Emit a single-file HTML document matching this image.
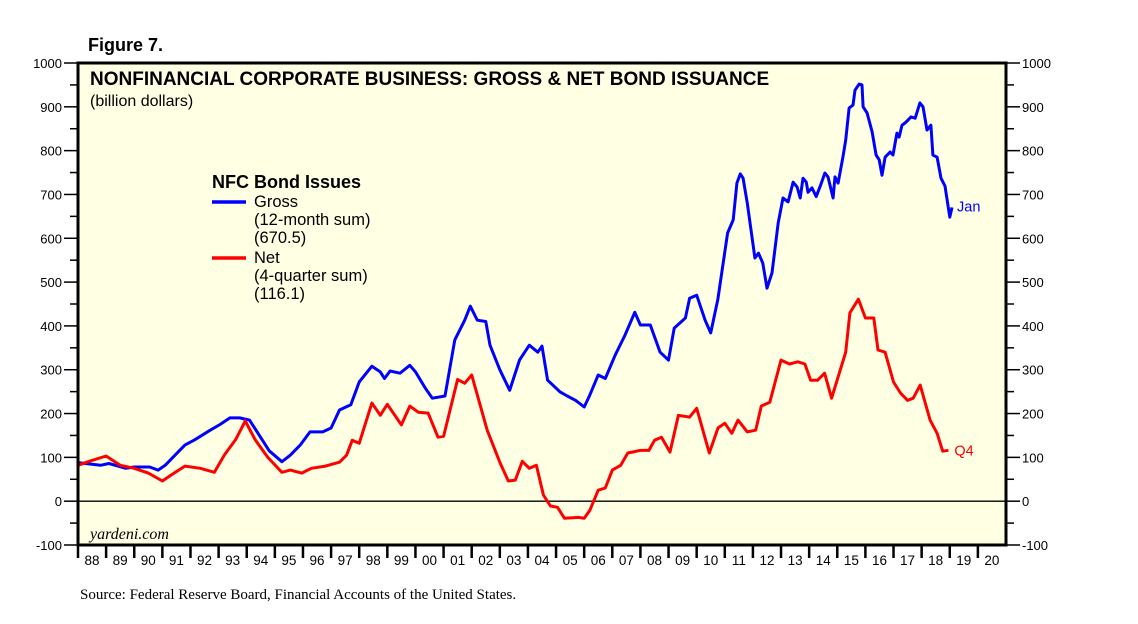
<!DOCTYPE html>
<html><head><meta charset="utf-8"><style>
body{margin:0;background:#fff;}
svg{display:block;font-family:"Liberation Sans",sans-serif;}
</style></head><body>
<svg id="chart" width="1138" height="624" viewBox="0 0 1138 624" xmlns="http://www.w3.org/2000/svg">
<text x="88" y="51" font-size="18" font-weight="bold">Figure 7.</text>
<rect x="78" y="63" width="928" height="482" fill="#ffffe4"/>
<g id="axes"></g>
<g id="series"></g>
<rect x="78" y="63" width="928" height="482" fill="none" stroke="#000" stroke-width="3"/>
<text x="90" y="85" font-size="19" font-weight="bold">NONFINANCIAL CORPORATE BUSINESS: GROSS &amp; NET BOND ISSUANCE</text>
<text x="90" y="106" font-size="16">(billion dollars)</text>
<g>
<text x="212" y="188" font-size="18" font-weight="bold">NFC Bond Issues</text>
<line x1="212" y1="202" x2="246" y2="202" stroke="#0000ff" stroke-width="3.5"/>
<text x="254" y="207" font-size="16.5">Gross</text>
<text x="254" y="225" font-size="16.5">(12-month sum)</text>
<text x="254" y="243" font-size="16.5">(670.5)</text>
<line x1="212" y1="258" x2="246" y2="258" stroke="#ff0000" stroke-width="3.5"/>
<text x="254" y="263" font-size="16.5">Net</text>
<text x="254" y="281" font-size="16.5">(4-quarter sum)</text>
<text x="254" y="299" font-size="16.5">(116.1)</text>
</g>
<text x="90" y="539" font-size="16" font-style="italic" font-family="Liberation Serif,serif">yardeni.com</text>
<text x="80" y="599" font-size="15" font-family="Liberation Serif,serif">Source: Federal Reserve Board, Financial Accounts of the United States.</text>
</svg>
<script>
const yTicks = [-100,0,100,200,300,400,500,600,700,800,900,1000];
const yearLabels = ["88","89","90","91","92","93","94","95","96","97","98","99","00","01","02","03","04","05","06","07","08","09","10","11","12","13","14","15","16","17","18","19","20"];
const grossDates = [1988.0,1988.8,1989.1,1989.7,1990.0,1990.55,1990.85,1991.1,1991.45,1991.8,1992.15,1992.7,1993.05,1993.4,1993.75,1994.1,1994.55,1994.8,1995.25,1995.55,1995.9,1996.25,1996.7,1997.0,1997.3,1997.7,1998.0,1998.45,1998.75,1998.9,1999.1,1999.45,1999.8,2000.0,2000.35,2000.6,2001.05,2001.4,2001.75,2001.95,2002.2,2002.5,2002.65,2003.0,2003.35,2003.7,2004.05,2004.35,2004.5,2004.7,2005.15,2005.4,2005.7,2006.0,2006.2,2006.5,2006.75,2007.1,2007.45,2007.8,2008.0,2008.35,2008.7,2009.0,2009.2,2009.6,2009.75,2010.0,2010.3,2010.5,2010.75,2011.1,2011.3,2011.43,2011.55,2011.65,2011.8,2012.07,2012.2,2012.35,2012.5,2012.68,2012.9,2013.07,2013.25,2013.43,2013.57,2013.68,2013.78,2013.9,2013.96,2014.1,2014.25,2014.4,2014.56,2014.67,2014.85,2014.92,2015.03,2015.2,2015.3,2015.42,2015.56,2015.63,2015.78,2015.88,2015.92,2016.06,2016.24,2016.38,2016.49,2016.59,2016.7,2016.88,2016.98,2017.12,2017.2,2017.3,2017.41,2017.52,2017.62,2017.77,2017.94,2018.05,2018.19,2018.33,2018.4,2018.55,2018.69,2018.83,2019.0,2019.08];
const grossValues = [88,82,86,75,78,78,71,82,105,128,140,162,175,190,190,185,140,115,90,105,128,158,158,167,208,220,272,308,295,280,297,292,310,295,258,235,240,368,413,445,413,410,356,300,253,322,356,340,354,276,249,240,230,215,242,288,280,333,379,431,402,402,340,322,395,418,463,470,413,384,460,612,642,726,747,737,680,555,566,543,486,521,635,692,683,728,717,692,737,728,705,715,695,720,749,740,692,740,726,785,824,897,904,938,952,950,900,886,843,790,779,744,785,797,790,840,831,858,863,870,877,874,909,900,847,858,790,785,737,719,648,670.5];
const netDates = [1988.0,1988.4,1989.0,1989.5,1990.0,1990.5,1991.0,1991.3,1991.8,1992.35,1992.85,1993.2,1993.6,1993.95,1994.3,1994.75,1995.25,1995.55,1995.95,1996.3,1996.8,1997.3,1997.55,1997.75,1998.0,1998.45,1998.75,1999.0,1999.5,1999.8,2000.1,2000.45,2000.8,2001.0,2001.5,2001.75,2002.0,2002.55,2003.0,2003.3,2003.55,2003.8,2004.05,2004.3,2004.55,2004.8,2005.05,2005.3,2005.8,2006.0,2006.2,2006.5,2006.75,2007.0,2007.3,2007.55,2008.0,2008.3,2008.5,2008.75,2009.05,2009.35,2009.75,2010.0,2010.45,2010.76,2011.0,2011.25,2011.47,2011.8,2012.1,2012.3,2012.6,2013.0,2013.3,2013.6,2013.85,2014.05,2014.3,2014.55,2014.8,2015.3,2015.45,2015.75,2016.0,2016.3,2016.45,2016.7,2017.0,2017.25,2017.5,2017.7,2017.95,2018.3,2018.55,2018.75,2018.95];
const netValues = [82,91,103,82,75,64,46,59,80,75,66,105,140,183,140,100,66,71,64,75,80,89,105,139,132,224,196,221,174,217,203,201,146,148,278,269,288,162,89,46,48,91,75,82,14,-11,-14,-39,-37,-39,-21,25,30,71,82,110,116,116,139,146,112,196,192,212,110,167,178,155,185,158,162,217,226,322,313,318,313,276,276,292,235,340,430,461,418,418,345,340,272,247,230,235,265,185,155,114,116.1];

const NS="http://www.w3.org/2000/svg";
const X0=78,X1=1006,Y0=545,Y1=63,YR0=1988,YR1=2021,V0=-100,V1=1000;
const xs=yr=>X0+(yr-YR0)/(YR1-YR0)*(X1-X0);
const ys=v=>Y0-(v-V0)/(V1-V0)*(Y0-Y1);
function mk(tag,attrs,parent,text){const e=document.createElementNS(NS,tag);for(const k in attrs)e.setAttribute(k,attrs[k]);if(text!==undefined)e.textContent=text;parent.appendChild(e);return e;}
const axes=document.getElementById('axes'),series=document.getElementById('series');
yTicks.forEach((v,i)=>{
  const y=ys(v);
  const lt=mk('line',{x1:64,x2:X0,y1:y,y2:y,stroke:'#000','stroke-width':1.5},axes);
  
  
  const rt=mk('line',{x1:X1,x2:X1+14,y1:y,y2:y,stroke:'#000','stroke-width':1.5},axes);
  
  
  const ll=mk('text',{x:62,y:y+5,'font-size':13,'text-anchor':'end'},axes,String(v));
  
  
  const rl=mk('text',{x:1022,y:y+5,'font-size':13},axes,String(v));
  
  
  if(i<yTicks.length-1){
    const ym=ys(v+50);
    const m1=mk('line',{x1:70,x2:X0,y1:ym,y2:ym,stroke:'#000','stroke-width':1.5},axes);
    
    
    const m2=mk('line',{x1:X1,x2:X1+8,y1:ym,y2:ym,stroke:'#000','stroke-width':1.5},axes);
    
    
  }
});
const zl=mk('line',{x1:X0,x2:X1,y1:ys(0),y2:ys(0),stroke:'#000','stroke-width':1.3},axes);


yearLabels.forEach((lab,i)=>{
  const x=xs(YR0+i);
  const t=mk('line',{x1:x,x2:x,y1:Y0,y2:Y0+13,stroke:'#000','stroke-width':2.5},axes);
  
  
  const l=mk('text',{x:xs(YR0+i+0.5),y:565,'font-size':13.5,'text-anchor':'middle'},axes,lab);
  
  
});
const gp=mk('polyline',{points:grossDates.map((d,i)=>xs(d).toFixed(1)+','+ys(grossValues[i]).toFixed(1)).join(' '),fill:'none',stroke:'#0000ff','stroke-width':3,'stroke-linejoin':'round'},series);


const np=mk('polyline',{points:netDates.map((d,i)=>xs(d).toFixed(1)+','+ys(netValues[i]).toFixed(1)).join(' '),fill:'none',stroke:'#ff0000','stroke-width':3,'stroke-linejoin':'round'},series);


const gl=grossDates.length-1,nl=netDates.length-1;
const ja=mk('text',{x:xs(grossDates[gl])+5,y:ys(grossValues[gl])+4,'font-size':14.5,fill:'#0000ff'},series,'Jan');


const q4=mk('text',{x:xs(netDates[nl])+6,y:ys(netValues[nl])+5,'font-size':14.5,fill:'#ff0000'},series,'Q4');


</script>
</body></html>
